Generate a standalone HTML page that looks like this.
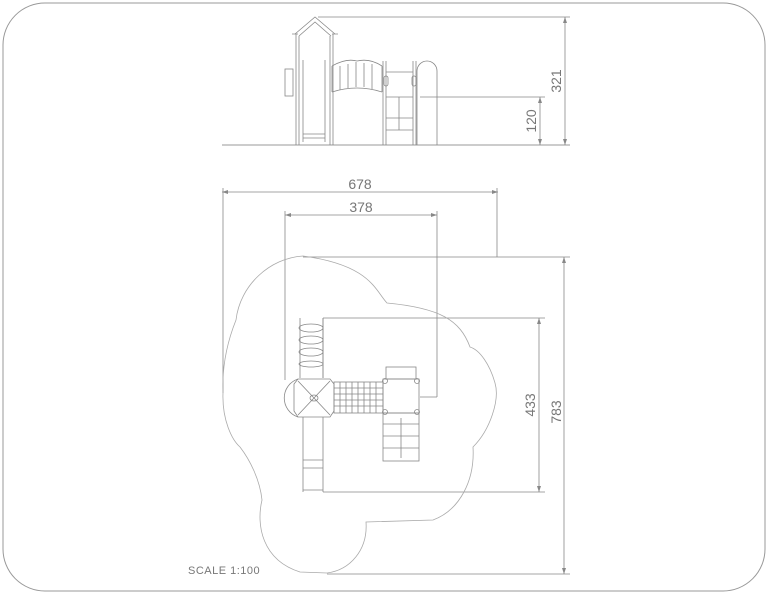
<!DOCTYPE html>
<html><head><meta charset="utf-8"><style>
html,body{margin:0;padding:0;background:#fff;}
svg{display:block;}
text{font-family:"Liberation Sans",sans-serif;fill:#777;}
</style></head><body>
<svg width="768" height="594" viewBox="0 0 768 594" xmlns="http://www.w3.org/2000/svg">
<rect x="3" y="3" width="762" height="588" rx="42" fill="#fff" stroke="#999" stroke-width="1"/>
<g fill="none" stroke="#888" stroke-width="0.8">
<!-- elevation dims -->
<line x1="222" y1="145" x2="570" y2="145" stroke="#777"/>
<line x1="318" y1="17" x2="570" y2="17"/>
<line x1="565" y1="17" x2="565" y2="145"/>
<line x1="420" y1="97" x2="545" y2="97"/>
<line x1="540" y1="97" x2="540" y2="145"/>
<!-- plan dims -->
<line x1="222" y1="192" x2="498" y2="192"/>
<line x1="223" y1="188" x2="223" y2="393"/>
<line x1="497" y1="188" x2="497" y2="257"/>
<line x1="285" y1="215" x2="437" y2="215"/>
<line x1="285" y1="211" x2="285" y2="380"/>
<line x1="437" y1="211" x2="437" y2="397"/>
<line x1="420" y1="397" x2="437" y2="397"/>
<line x1="303" y1="257" x2="570" y2="257"/>
<line x1="564" y1="257" x2="564" y2="574"/>
<line x1="327" y1="574" x2="570" y2="574"/>
<line x1="323" y1="318" x2="545" y2="318"/>
<line x1="323" y1="318" x2="323" y2="378"/>
<line x1="539" y1="318" x2="539" y2="492"/>
<line x1="323" y1="492" x2="545" y2="492"/>
</g>
<g fill="#888">
<path d="M565 17 l-2 6 h4z M565 145 l-2 -6 h4z M540 97 l-2 6 h4z M540 145 l-2 -6 h4z"/>
<path d="M222 192 l6 -2 v4z M498 192 l-6 -2 v4z M285 215 l6 -2 v4z M437 215 l-6 -2 v4z"/>
<path d="M564 257 l-2 6 h4z M564 574 l-2 -6 h4z M539 318 l-2 6 h4z M539 492 l-2 -6 h4z"/>
</g>
<!-- blob -->
<path fill="none" stroke="#aaa" stroke-width="0.8" d="M303 256 C270 258 240 285 236 320 C226 345 222 370 223 393 C222 420 232 440 240 447 C250 460 260 480 262 500 C256 525 262 560 300 572 L327 573 C350 570 368 550 366 522 L433 520 C460 510 475 480 473 447 C490 430 500 400 495 383 C490 365 480 350 470 347 C460 320 440 308 387 303 C375 290 370 265 303 256 Z"/>
<!-- elevation structure -->
<g fill="none" stroke="#888" stroke-width="0.8">
<path d="M295 34 L315 17 L335 34 M299 36 L315 22 L331 36 M292 34 h6 M332 34 h6"/>
<path d="M296 34 V145 M299 36 V145 M330 36 V145 M333 34 V145"/>
<path d="M303 60 V142 M325 60 V142 M303 134 h22 M303 138 h22"/>
<rect x="285" y="69" width="8" height="27"/>
<path d="M332 66 Q346 58 357 61 Q370 58 382 66 M332 92 Q357 84 382 92 M332 66 V92 M382 66 V92"/>
<path d="M340 66 V90 M348 64 V88 M356 62 V87 M364 63 V87 M372 64 V89"/>
<path d="M383 61 V145 M386 61 V145 M413 61 V145 M416 61 V145 M386 97 H413 M386 118 H413 M386 130 H413 M399 97 V130"/>
<path d="M386 72 H413"/>
<path d="M417 145 V71 A10 10 0 0 1 437 71 V145"/>
<rect x="384" y="76" width="4" height="10" rx="2"/>
<rect x="412" y="76" width="4" height="10" rx="2"/>
</g>
<!-- plan structure -->
<g fill="none" stroke="#888" stroke-width="0.8">
<path d="M300 318 V378 M323 318 V378"/>
<ellipse cx="311" cy="328" rx="12" ry="4"/>
<ellipse cx="311" cy="340" rx="12" ry="4"/>
<ellipse cx="311" cy="352" rx="12" ry="4"/>
<ellipse cx="311" cy="364" rx="12" ry="3"/>
<path d="M298 379 H330 L334 384 V411 L330 417 H298 L294 411 V384 Z"/>
<path d="M298 379 A20 20 0 0 0 298 417"/>
<path d="M298 381 L330 415 M330 381 L298 415"/>
<ellipse cx="314" cy="398" rx="4" ry="3"/>
<rect x="334" y="382" width="49" height="31"/>
<path d="M340 382 V413 M346 382 V413 M352 382 V413 M358 382 V413 M364 382 V413 M370 382 V413 M376 382 V413 M334 388 H383 M334 394 H383 M334 400 H383 M334 406 H383"/>
<rect x="383" y="379" width="36" height="34"/>
<circle cx="385" cy="381" r="2.5"/><circle cx="417" cy="381" r="2.5"/>
<circle cx="385" cy="412" r="2.5"/><circle cx="417" cy="412" r="2.5"/>
<rect x="386" y="367" width="30" height="12"/>
<rect x="383" y="413" width="36" height="48"/>
<path d="M383 424 H419 M383 436 H419 M383 448 H419 M401 418 V458"/>
<path d="M303 417 V492 M323 417 V492 M303 460 H323 M303 468 H323 M303 490 H323"/>
</g>
<text x="0" y="0" font-size="14" transform="translate(561 81) rotate(-90)" text-anchor="middle">321</text>
<text x="0" y="0" font-size="14" transform="translate(536 121) rotate(-90)" text-anchor="middle">120</text>
<text x="360" y="189" font-size="14" text-anchor="middle">678</text>
<text x="361" y="212" font-size="14" text-anchor="middle">378</text>
<text x="0" y="0" font-size="14" transform="translate(535 405) rotate(-90)" text-anchor="middle">433</text>
<text x="0" y="0" font-size="14" transform="translate(561 412) rotate(-90)" text-anchor="middle">783</text>
<text x="188" y="574" font-size="11" fill="#888" letter-spacing="0.5">SCALE 1:100</text>
</svg>
</body></html>
